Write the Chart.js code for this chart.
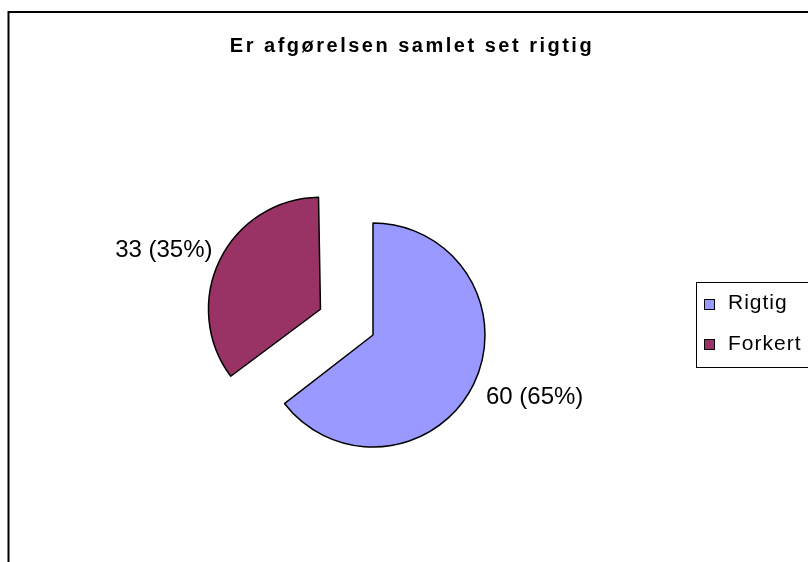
<!DOCTYPE html>
<html>
<head>
<meta charset="utf-8">
<script src="https://cdn.jsdelivr.net/npm/chart.js@4"></script>
<style>
  html, body { margin: 0; padding: 0; background: #fff; }
  #wrap { width: 808px; height: 562px; }
</style>
</head>
<body>
<div id="wrap"><canvas id="myChart" width="808" height="562"></canvas></div>
<script>
const title = 'Er afgørelsen samlet set rigtig';
const categories = ['Rigtig', 'Forkert'];
const counts = [60, 33];
const colors = ['#9999FF', '#993366'];
const explode = [0, 234];

const total = counts.reduce((a, b) => a + b, 0);
const FONT = '"Liberation Sans", Arial, sans-serif';

// how much chart.js grows an offset arc's radius while drawing
const radiusGrowth = (arc, i) => explode[i] / 4 * (1 - Math.sin(Math.min(Math.PI, arc.circumference)));

// frame + title
const framePlugin = {
  id: 'frame',
  beforeDraw(chart) {
    const ctx = chart.ctx;
    ctx.save();
    ctx.fillStyle = '#fff';
    ctx.fillRect(0, 0, chart.width, chart.height);
    ctx.strokeStyle = '#000';
    ctx.lineWidth = 2;
    ctx.beginPath();
    ctx.moveTo(8.5, chart.height);
    ctx.lineTo(8.5, 12);
    ctx.lineTo(chart.width, 12);
    ctx.stroke();
    ctx.fillStyle = '#000';
    ctx.font = 'bold 20px ' + FONT;
    ctx.letterSpacing = '2.5px';
    ctx.textAlign = 'center';
    ctx.textBaseline = 'alphabetic';
    ctx.fillText(title, 412, 52);
    ctx.restore();
  },
};

// exploded slices keep the same radius as the others
const explodeFix = {
  id: 'explodeFix',
  afterDatasetUpdate(chart, args) {
    args.meta.data.forEach((arc, i) => {
      arc.outerRadius -= radiusGrowth(arc, i);
    });
  },
};

// value labels outside each slice
const labelPlugin = {
  id: 'valueLabels',
  afterDatasetsDraw(chart) {
    const ctx = chart.ctx;
    const meta = chart.getDatasetMeta(0);
    ctx.save();
    ctx.font = '24px ' + FONT;
    ctx.fillStyle = '#000';
    ctx.textBaseline = 'alphabetic';
    meta.data.forEach((arc, i) => {
      const p = arc.getProps(['x', 'y', 'startAngle', 'endAngle', 'outerRadius', 'circumference']);
      const mid = (p.startAngle + p.endAngle) / 2;
      const off = explode[i] / 4;
      const r = p.outerRadius + radiusGrowth(p, i);
      const cx = p.x + Math.cos(mid) * off;
      const cy = p.y + Math.sin(mid) * off;
      const ax = cx + Math.cos(mid) * (r + 6);
      const ay = cy + Math.sin(mid) * (r + 6);
      const pct = Math.round(counts[i] / total * 100);
      const text = counts[i] + ' (' + pct + '%)';
      const right = Math.cos(mid) >= 0;
      const below = Math.sin(mid) >= 0;
      ctx.textAlign = right ? 'left' : 'right';
      ctx.fillText(text, ax + (right ? 7 : -2), ay + (below ? 17 : 0));
    });
    ctx.restore();
  },
};

// boxed legend on the right
const legendPlugin = {
  id: 'boxLegend',
  afterDraw(chart) {
    const ctx = chart.ctx;
    const ds = chart.data.datasets[0];
    ctx.save();
    ctx.strokeStyle = '#000';
    ctx.lineWidth = 1;
    ctx.strokeRect(696.5, 282.5, 200, 85);
    ctx.font = '21px ' + FONT;
    ctx.letterSpacing = '1px';
    ctx.textAlign = 'left';
    ctx.textBaseline = 'alphabetic';
    chart.data.labels.forEach((lab, i) => {
      const y = 299.5 + i * 40;
      ctx.fillStyle = ds.backgroundColor[i];
      ctx.fillRect(704.5, y, 10, 10);
      ctx.strokeRect(704.5, y, 10, 10);
      ctx.fillStyle = '#000';
      ctx.fillText(lab, 728, 309 + i * 40.5);
    });
    ctx.restore();
  },
};

const ctx = document.getElementById('myChart').getContext('2d');
const myChart = new Chart(ctx, {
  type: 'pie',
  data: {
    labels: categories,
    datasets: [{
      data: counts,
      backgroundColor: colors,
      borderColor: '#000',
      borderWidth: 1.5,
      offset: explode,
      radius: 112,
    }],
  },
  options: {
    responsive: false,
    animation: false,
    layout: { padding: { left: 20, right: 82, top: 120, bottom: 12 } },
    plugins: {
      legend: { display: false },
      title: { display: false },
      tooltip: { enabled: false },
    },
  },
  plugins: [framePlugin, explodeFix, labelPlugin, legendPlugin],
});
</script>
</body>
</html>
